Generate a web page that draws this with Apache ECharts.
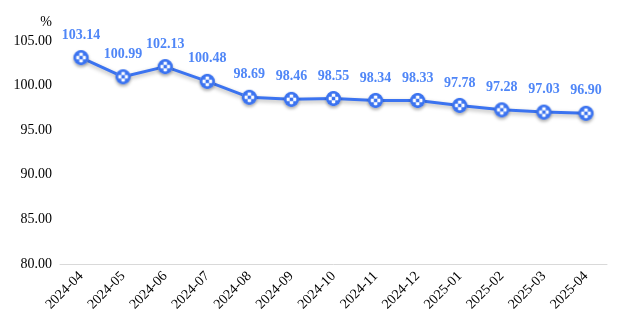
<!DOCTYPE html>
<html><head><meta charset="utf-8">
<script src="https://cdn.jsdelivr.net/npm/echarts@6/dist/echarts.min.js"></script>
<style>html,body{margin:0;padding:0;background:#fff}#c{width:621px;height:331px}</style>
</head><body><div id="c"></div>
<script>
const categories = ['2024-04','2024-05','2024-06','2024-07','2024-08','2024-09','2024-10','2024-11','2024-12','2025-01','2025-02','2025-03','2025-04'];
const values = [103.14,100.99,102.13,100.48,98.69,98.46,98.55,98.34,98.33,97.78,97.28,97.03,96.90];
const yTicks = {min:80, max:105, interval:5};

// checkered marker image
const S = 19;
const mc = document.createElement('canvas');
mc.width = S; mc.height = S;
const m = mc.getContext('2d');
const cx = 9.5, cy = 9.5, r = 7.5;
m.save();
m.beginPath(); m.arc(cx, cy, r, 0, Math.PI*2); m.closePath();
m.fillStyle = '#ffffff'; m.fill();
m.clip();
m.fillStyle = '#3b73f0';
const q = 3.5;
for (let i = -3; i < 4; i++) for (let j = -3; j < 4; j++) {
  if ((i + j) % 2 === 0) m.fillRect(cx + i*q - q/2, cy + j*q - q/2, q, q);
}
m.restore();
m.beginPath(); m.arc(cx, cy, r - 1.2, 0, Math.PI*2);
m.lineWidth = 2.6; m.strokeStyle = '#3b73f0'; m.stroke();
const markerURL = 'image://' + mc.toDataURL();

const chart = echarts.init(document.getElementById('c'));
chart.setOption({
  animation:false,
  grid:{left:60,right:14,top:41,bottom:67},
  xAxis:{type:'category',data:categories,boundaryGap:true,
    axisLine:{lineStyle:{color:'#d9d9d9'}},axisTick:{show:false},
    axisLabel:{rotate:45,color:'#000',fontFamily:'Liberation Serif',fontSize:14,margin:10,interval:0}},
  yAxis:{type:'value',min:yTicks.min,max:yTicks.max,interval:yTicks.interval,name:'%',
    nameTextStyle:{color:'#000',fontFamily:'Liberation Serif',fontSize:14,padding:[0,28,0,0]},nameGap:12,
    splitLine:{show:false},axisLine:{show:false},axisTick:{show:false},
    axisLabel:{color:'#000',fontFamily:'Liberation Serif',fontSize:14,margin:8,formatter:v=>v.toFixed(2)}},
  series:[{type:'line',data:values,symbol:markerURL,symbolSize:S,showAllSymbol:true,
    lineStyle:{color:'#3b73f0',width:3,shadowColor:'rgba(0,0,0,0.3)',shadowBlur:4,shadowOffsetY:2},
    itemStyle:{color:'#3b73f0',shadowColor:'rgba(0,0,0,0.3)',shadowBlur:3,shadowOffsetY:2},
    label:{show:true,position:'top',distance:6,color:'#4f86f7',fontFamily:'Liberation Serif',fontWeight:'bold',fontSize:14,formatter:p=>p.value.toFixed(2)}
  }]
});
</script></body></html>
